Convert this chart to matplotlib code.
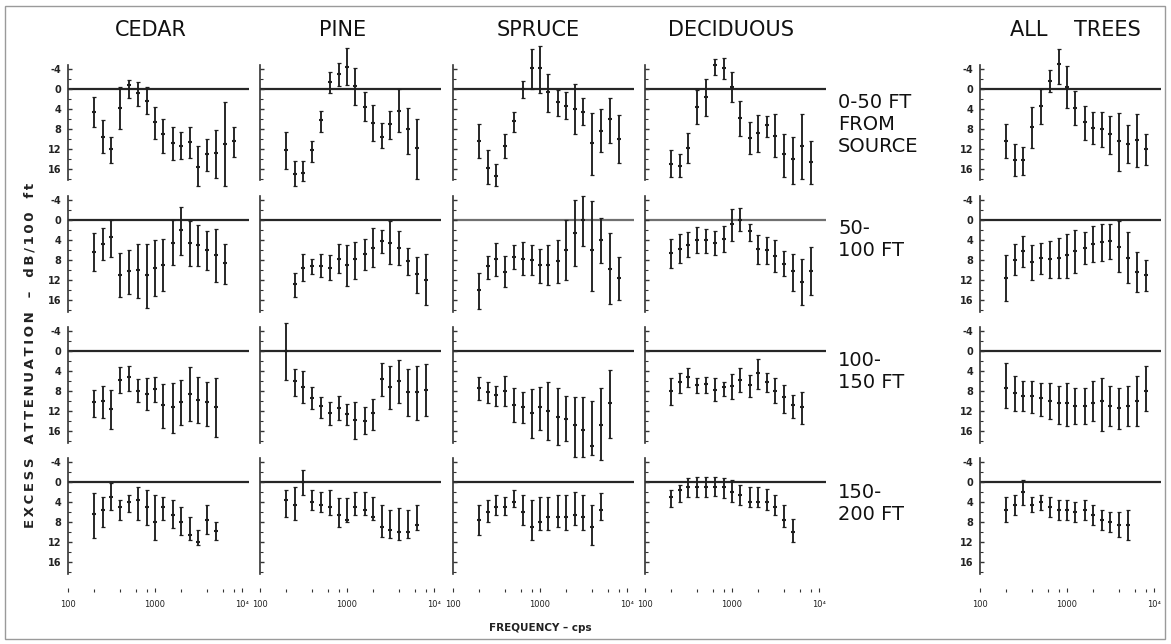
import matplotlib
matplotlib.use("Agg")
import matplotlib.pyplot as plt
from matplotlib.patches import Rectangle
import numpy as np

W, H = 1171, 644

FREQ = [200, 250, 315, 400, 500, 630, 800, 1000, 1250, 1600, 2000, 2500,
        3150, 4000, 5000, 6300, 8000]
COLUMNS = ["CEDAR", "PINE", "SPRUCE", "DECIDUOUS", "ALL    TREES"]
ROW_LABELS = ["0-50 FT\nFROM\nSOURCE", "50-\n100 FT", "100-\n150 FT", "150-\n200 FT"]
Y_TICKS = [-4, 0, 4, 8, 12, 16]
Y_TICK_LABELS = ["-4", "0", "4", "8", "12", "16"]
X_TICKS = [100, 1000, 10000]
X_TICK_LABELS = ["100", "1000", "10\u2074"]
N = None

# ---- Row 1: 0-50 ft from source (mid, low, high in dB) ----
cedar1_mid = [4.5, 9.6, 12.1, 3.8, -0.9, 0.7, 2.3, 6.7, 9.1, 10.8, 11.3, 10.7, 15.6, 13.0, 12.8, 11.0, 10.5]
cedar1_lo = [1.5, 6.3, 9.6, -0.4, -1.9, -1.5, -0.4, 3.6, 6.0, 7.6, 8.5, 7.6, 11.3, 10.0, 8.1, 2.5, 7.6]
cedar1_hi = [7.6, 12.8, 14.9, 8.0, 1.8, 3.3, 5.1, 10.0, 12.8, 14.3, 14.1, 13.8, 19.4, 16.5, 17.8, 19.4, 13.6]

pine1_mid = [12.3, 17.0, 16.8, 12.3, 6.3, -1.4, -3.0, -4.5, -0.7, 3.5, 6.8, 9.5, 7.1, 4.3, 8.0, 11.8, N]
pine1_lo = [8.7, 14.5, 14.5, 10.3, 4.3, -3.4, -5.2, -8.2, -4.3, 0.5, 3.1, 6.8, 4.3, 0.0, 3.8, 6.0, N]
pine1_hi = [16.0, 19.5, 18.5, 14.7, 8.5, 0.8, -0.7, -0.9, 3.1, 6.5, 10.3, 11.8, 10.0, 8.7, 13.0, 18.1, N]

spruce1_mid = [10.5, 15.8, 17.5, 11.3, 6.5, 0.0, -4.2, -4.2, 0.5, 2.6, 3.3, 3.9, 4.5, 10.8, 8.3, 6.1, 9.9]
spruce1_lo = [7.1, 12.3, 15.0, 9.0, 4.5, -1.7, -8.0, -8.7, -3.0, 0.1, 0.5, -1.1, 1.8, 4.8, 4.1, 1.7, 5.3]
spruce1_hi = [13.8, 19.0, 19.5, 13.8, 8.7, 1.7, 0.0, 0.7, 4.5, 5.5, 6.1, 9.0, 7.3, 17.3, 12.7, 10.8, 14.9]

decid1_mid = [15.0, 15.5, 11.8, 3.5, 1.5, -4.9, -4.2, -0.5, 5.8, 9.8, 8.8, 7.3, 9.3, 13.1, 14.0, 11.5, 14.7]
decid1_lo = [12.3, 13.0, 8.8, 0.1, -2.1, -6.0, -6.3, -3.4, 2.3, 6.7, 5.3, 5.5, 5.1, 8.9, 9.5, 5.1, 10.3]
decid1_hi = [17.6, 17.6, 14.9, 6.9, 5.5, -2.9, -2.1, 2.5, 9.3, 13.0, 12.6, 9.5, 13.6, 17.6, 19.0, 18.0, 19.0]

all1_mid = [10.3, 14.3, 14.2, 7.7, 3.3, -1.7, -5.0, -0.5, 3.7, 6.7, 7.8, 8.0, 9.1, 10.5, 11.0, 10.2, 12.0]
all1_lo = [6.9, 11.1, 11.7, 3.5, 0.0, -3.9, -8.0, -4.7, 0.3, 3.3, 4.5, 4.5, 5.5, 4.7, 7.3, 5.1, 9.0]
all1_hi = [13.8, 17.5, 17.3, 11.8, 6.9, 0.5, -1.0, 3.7, 7.3, 10.2, 10.9, 11.7, 13.1, 16.5, 14.9, 15.7, 15.3]

# ---- Row 2: 50-100 ft ----
cedar2_mid = [6.3, 4.7, 3.3, 10.9, 10.2, 10.0, 11.0, 9.5, 9.0, 4.5, 2.0, 4.5, 5.0, 6.0, 7.0, 8.5, N]
cedar2_lo = [2.5, 1.5, -0.1, 6.5, 6.0, 4.7, 4.8, 4.0, 3.8, 0.0, -2.7, 0.1, 1.0, 2.1, 1.7, 4.7, N]
cedar2_hi = [10.1, 8.0, 7.3, 15.3, 14.8, 15.5, 17.5, 15.2, 14.1, 9.0, 6.9, 9.1, 9.2, 10.0, 12.3, 12.7, N]

pine2_mid = [N, 12.8, 9.5, 9.1, 9.1, 9.5, 7.7, 9.0, 7.8, 6.8, 5.5, 4.1, 4.6, 5.5, 8.1, 10.8, 11.9]
pine2_lo = [N, 10.5, 6.8, 7.8, 6.8, 6.9, 4.7, 5.0, 4.3, 3.8, 1.5, 1.9, 0.1, 2.1, 5.6, 7.3, 6.8]
pine2_hi = [N, 15.3, 12.1, 10.8, 11.3, 11.9, 10.6, 13.1, 11.7, 9.9, 9.3, 6.6, 8.8, 8.9, 10.9, 14.5, 16.9]

spruce2_mid = [14.0, 9.2, 7.7, 10.4, 7.3, 7.7, 8.0, 8.9, 8.9, 8.2, 6.0, 2.5, 0.0, 5.9, 3.9, 9.7, 11.5]
spruce2_lo = [10.5, 7.1, 4.5, 7.1, 5.0, 4.3, 5.0, 5.7, 5.0, 4.0, 0.0, -4.1, -4.9, -3.9, -0.5, 2.5, 7.3]
spruce2_hi = [17.7, 11.7, 11.2, 13.3, 9.7, 11.0, 10.9, 12.5, 12.9, 12.5, 12.0, 9.1, 5.1, 14.1, 8.5, 16.7, 15.9]

decid2_mid = [6.5, 5.7, 4.9, 3.9, 3.9, 4.5, 3.7, 0.7, 0.0, 2.2, 5.7, 5.9, 7.1, 8.7, 10.2, 12.3, 10.2]
decid2_lo = [3.7, 2.7, 2.4, 1.3, 1.7, 2.2, 1.2, -2.3, -2.5, 0.7, 2.9, 3.4, 3.9, 6.2, 6.7, 7.7, 5.3]
decid2_hi = [9.5, 8.5, 7.4, 6.5, 6.5, 7.0, 6.3, 4.1, 2.2, 4.2, 8.7, 8.7, 10.3, 11.1, 14.1, 16.9, 15.0]

all2_mid = [11.5, 7.9, 6.2, 8.3, 7.5, 7.7, 7.5, 6.9, 6.2, 5.5, 4.7, 4.3, 4.1, 5.3, 7.5, 10.3, 11.0]
all2_lo = [6.9, 4.8, 3.1, 4.9, 4.5, 4.2, 3.5, 2.7, 2.0, 2.3, 1.1, 0.7, 0.8, 0.2, 2.3, 6.3, 8.0]
all2_hi = [16.2, 11.0, 9.3, 12.0, 10.7, 11.5, 11.5, 11.5, 10.5, 8.7, 8.3, 8.1, 7.8, 10.3, 12.5, 14.3, 14.2]

# ---- Row 3: 100-150 ft ----
cedar3_mid = [10.3, 10.1, 11.7, 5.8, 5.3, 8.0, 8.7, 7.7, 10.9, 11.3, 10.3, 8.7, 9.9, 10.3, 11.3, N, N]
cedar3_lo = [7.8, 7.0, 7.9, 3.3, 3.0, 5.7, 5.5, 5.3, 6.7, 6.5, 5.9, 3.3, 5.3, 6.2, 5.5, N, N]
cedar3_hi = [13.1, 13.3, 15.5, 8.5, 8.0, 10.3, 11.9, 10.3, 15.3, 16.3, 14.8, 13.9, 14.3, 15.0, 17.1, N, N]

pine3_mid = [0.1, 6.1, 7.2, 9.5, 11.1, 12.3, 11.5, 12.7, 13.8, 14.0, 12.5, 5.7, 7.3, 6.1, 8.3, 8.3, 7.9]
pine3_lo = [-5.5, 3.7, 4.0, 7.2, 9.2, 10.2, 9.0, 10.7, 10.2, 11.3, 9.7, 2.5, 3.0, 1.9, 3.7, 3.0, 2.7]
pine3_hi = [5.9, 9.0, 10.5, 11.7, 13.3, 14.7, 13.8, 14.7, 17.5, 16.5, 15.7, 9.0, 11.7, 10.5, 13.0, 13.8, 13.0]

spruce3_mid = [7.5, 8.3, 8.8, 8.0, 10.8, 11.3, 12.3, 11.3, 12.1, 13.1, 13.5, 14.7, 15.8, 19.0, 14.8, 10.5, N]
spruce3_lo = [5.2, 6.2, 7.0, 5.1, 7.5, 8.3, 7.7, 7.2, 6.3, 7.5, 9.0, 9.2, 9.2, 10.1, 7.5, 3.8, N]
spruce3_hi = [9.9, 10.5, 11.0, 11.0, 14.1, 14.3, 17.3, 15.7, 17.7, 18.7, 18.0, 21.1, 21.1, 20.8, 21.7, 17.3, N]

decid3_mid = [8.0, 6.3, 5.2, 6.9, 6.7, 7.9, 7.3, 7.0, 5.8, 6.9, 4.5, 6.3, 8.0, 9.3, 10.9, 11.3, N]
decid3_lo = [5.5, 4.5, 3.5, 5.5, 5.2, 5.5, 6.3, 4.7, 3.5, 4.9, 1.7, 4.5, 5.5, 6.9, 8.9, 8.3, N]
decid3_hi = [10.8, 8.5, 7.3, 8.5, 8.5, 10.1, 9.0, 9.7, 8.2, 9.2, 7.7, 8.3, 10.5, 12.5, 13.3, 14.5, N]

all3_mid = [7.5, 8.5, 9.0, 9.0, 9.5, 10.0, 10.5, 10.5, 11.0, 11.0, 10.5, 10.0, 11.0, 11.5, 11.0, 10.0, 8.0]
all3_lo = [2.5, 5.0, 6.0, 6.0, 6.5, 6.5, 7.0, 6.5, 7.5, 7.5, 6.0, 5.5, 7.0, 7.5, 7.0, 5.0, 3.0]
all3_hi = [11.5, 12.0, 12.0, 12.5, 13.0, 13.5, 14.5, 15.0, 14.5, 14.5, 14.0, 16.0, 15.0, 15.5, 15.0, 15.0, 12.0]

# ---- Row 4: 150-200 ft ----
cedar4_mid = [6.3, 5.6, 3.0, 5.0, 4.0, 3.5, 5.0, 8.0, 5.0, 6.5, 8.0, 10.5, 12.0, 7.5, 9.8, N, N]
cedar4_lo = [2.2, 3.0, 0.2, 3.6, 2.6, 1.0, 1.6, 2.6, 3.0, 3.6, 5.0, 7.0, 9.5, 4.5, 8.0, N, N]
cedar4_hi = [11.2, 9.0, 5.6, 7.6, 6.0, 7.6, 8.6, 11.6, 7.6, 9.2, 10.6, 11.6, 12.6, 10.4, 11.6, N, N]

pine4_mid = [3.6, 4.5, 0.0, 4.0, 4.5, 5.0, 6.5, 7.5, 5.0, 5.5, 7.0, 9.0, 9.5, 10.0, 10.0, 8.5, N]
pine4_lo = [1.6, 1.0, -2.4, 1.6, 2.0, 1.6, 3.2, 3.2, 2.0, 2.0, 3.0, 4.6, 5.6, 5.2, 5.6, 4.6, N]
pine4_hi = [7.0, 7.6, 2.6, 5.6, 6.0, 6.6, 9.0, 8.0, 6.6, 6.6, 7.6, 11.0, 11.2, 11.6, 11.2, 9.6, N]

spruce4_mid = [7.5, 6.0, 5.0, 5.0, 4.0, 6.0, 9.0, 8.0, 7.0, 7.0, 7.0, 6.5, 7.0, 9.0, 5.5, N, N]
spruce4_lo = [4.6, 3.6, 2.6, 3.0, 1.6, 2.6, 3.6, 3.0, 3.0, 2.6, 2.6, 2.0, 2.6, 4.6, 2.2, N, N]
spruce4_hi = [10.6, 8.0, 6.6, 6.6, 5.0, 8.6, 11.6, 9.6, 9.6, 9.0, 9.6, 8.6, 9.6, 12.6, 7.6, N, N]

decid4_mid = [3.0, 1.5, 1.0, 1.0, 1.0, 1.0, 1.0, 2.0, 2.5, 4.0, 4.0, 4.0, 5.0, 7.5, 10.0, N, N]
decid4_lo = [1.6, 0.6, -0.8, -1.0, -1.0, -1.0, -0.8, -0.4, 0.6, 1.0, 1.0, 1.4, 2.6, 4.6, 7.4, N, N]
decid4_hi = [5.0, 4.0, 3.0, 3.0, 3.0, 2.8, 3.2, 4.0, 4.6, 5.0, 5.0, 5.6, 6.6, 9.0, 12.0, N, N]

all4_mid = [5.5, 4.5, 2.0, 4.5, 4.0, 5.0, 5.5, 5.5, 6.0, 5.5, 6.5, 7.5, 8.0, 8.5, 8.5, N, N]
all4_lo = [3.0, 2.5, -0.5, 3.0, 2.5, 3.0, 3.5, 3.5, 4.0, 3.5, 4.5, 5.5, 6.0, 6.0, 5.5, N, N]
all4_hi = [8.0, 6.5, 4.5, 6.0, 5.5, 7.0, 7.5, 7.5, 8.0, 7.5, 8.5, 9.5, 10.0, 11.0, 11.5, N, N]

PANELS = [
    [(cedar1_mid, cedar1_lo, cedar1_hi), (pine1_mid, pine1_lo, pine1_hi),
     (spruce1_mid, spruce1_lo, spruce1_hi), (decid1_mid, decid1_lo, decid1_hi),
     (all1_mid, all1_lo, all1_hi)],
    [(cedar2_mid, cedar2_lo, cedar2_hi), (pine2_mid, pine2_lo, pine2_hi),
     (spruce2_mid, spruce2_lo, spruce2_hi), (decid2_mid, decid2_lo, decid2_hi),
     (all2_mid, all2_lo, all2_hi)],
    [(cedar3_mid, cedar3_lo, cedar3_hi), (pine3_mid, pine3_lo, pine3_hi),
     (spruce3_mid, spruce3_lo, spruce3_hi), (decid3_mid, decid3_lo, decid3_hi),
     (all3_mid, all3_lo, all3_hi)],
    [(cedar4_mid, cedar4_lo, cedar4_hi), (pine4_mid, pine4_lo, pine4_hi),
     (spruce4_mid, spruce4_lo, spruce4_hi), (decid4_mid, decid4_lo, decid4_hi),
     (all4_mid, all4_lo, all4_hi)],
]

# ---- layout (pixels) ----
COL_X0 = [68, 260, 453, 645, 980]      # pixel of 100 Hz
DECADE = 87.0                          # px per decade
ROW_Y0 = [89, 220, 351, 482]           # pixel of 0 dB
PX_DB = 5.0
Y_TOP, Y_BOT = -7.0, 22.0
X_MAX_LOG = 4.08

fig = plt.figure(figsize=(W / 100, H / 100), dpi=100)
fig.patches.append(Rectangle((5 / W, 5 / H), 1 - 11 / W, 1 - 11 / H,
                             transform=fig.transFigure, fill=False,
                             edgecolor="#9a9a9a", lw=1.0))

ink = "#1e1e1e"
for r in range(4):
    for c in range(5):
        mid, lo, hi = PANELS[r][c]
        left = COL_X0[c]
        width = DECADE * (X_MAX_LOG - 2)
        top = ROW_Y0[r] + Y_TOP * PX_DB
        height = (Y_BOT - Y_TOP) * PX_DB
        ax = fig.add_axes([left / W, 1 - (top + height) / H, width / W, height / H])
        ax.patch.set_alpha(0)
        ax.set_xscale("log")
        ax.set_xlim(100, 10 ** X_MAX_LOG)
        ax.set_ylim(Y_BOT, Y_TOP)
        for s in ("top", "right", "bottom"):
            ax.spines[s].set_visible(False)
        ax.spines["left"].set_bounds(-4.8, 18.3)
        ax.spines["left"].set_linewidth(1.2)
        ax.spines["left"].set_color("#333333")
        zcol = "#707070" if (r == 1 and c in (2, 3)) else "#262626"
        ax.axhline(0, color=zcol, lw=1.6, zorder=1)

        f = [FREQ[i] for i in range(len(FREQ)) if mid[i] is not None]
        m = np.array([v for v in mid if v is not None], float)
        l = np.array([v for v in lo if v is not None], float)
        h = np.array([v for v in hi if v is not None], float)
        eb = ax.errorbar(f, m, yerr=[m - l, h - m], fmt="none", ecolor=ink,
                         elinewidth=1.35, capsize=1.6, capthick=0.9, zorder=3)
        for art in eb.lines[1] + eb.lines[2]:
            art.set_clip_on(False)
        ax.plot(f, m, ls="none", marker="_", ms=3.2, mew=1.5, color=ink,
                clip_on=False, zorder=4)

        ax.set_yticks(Y_TICKS)
        ax.set_yticks([-2, 2, 6, 10, 14, 18], minor=True)
        ax.tick_params(axis="y", which="major", direction="in", length=3,
                       width=1.0, color="#333333", pad=5)
        ax.tick_params(axis="y", which="minor", direction="in", length=2,
                       width=0.8, color="#333333")
        if c in (0, 4):
            ax.set_yticklabels(Y_TICK_LABELS, fontsize=7, fontweight="bold",
                               color="#222222")
        else:
            ax.set_yticklabels([])

        if r == 3:
            ax.set_xticks(X_TICKS)
            ax.set_xticklabels(X_TICK_LABELS, fontsize=6, color="#222222")
            ax.set_xticks([200, 400, 600, 800, 2000, 4000, 6000, 8000], minor=True)
            ax.tick_params(axis="x", which="major", direction="in", length=3,
                           width=0.8, pad=6, color="#333333")
            ax.tick_params(axis="x", which="minor", direction="in", length=2,
                           width=0.8, color="#333333", labelbottom=False)
        else:
            ax.set_xticks([])
            ax.set_xticks([], minor=True)

# column titles
TITLE_X = [151, 343, 538, 731, 1075]
for name, x in zip(COLUMNS, TITLE_X):
    fig.text(x / W, 1 - 30 / H, name, ha="center", va="center", fontsize=15,
             color="#111111")

# row labels
ROW_LABEL_Y = [103, 229, 361, 493]
for lab, y in zip(ROW_LABELS, ROW_LABEL_Y):
    fig.text(838 / W, 1 - (y - 10) / H, lab, ha="left", va="top", fontsize=14,
             color="#111111", linespacing=1.2)

ts = "\u2009"
ylab_words = ["EXCESS", "ATTENUATION", "\u2013", "dB/100", "ft"]
ylab = "   ".join(ts.join(w) for w in ylab_words)
fig.text(30 / W, 1 - 355 / H, ylab, rotation=90, ha="center", va="center",
         fontsize=9.5, fontweight="bold", color="#222222")
fig.text(540 / W, 1 - 628 / H, "FREQUENCY \u2013 cps", ha="center", va="center",
         fontsize=7.5, fontweight="bold", color="#222222")

fig.savefig("out.png", dpi=100)
